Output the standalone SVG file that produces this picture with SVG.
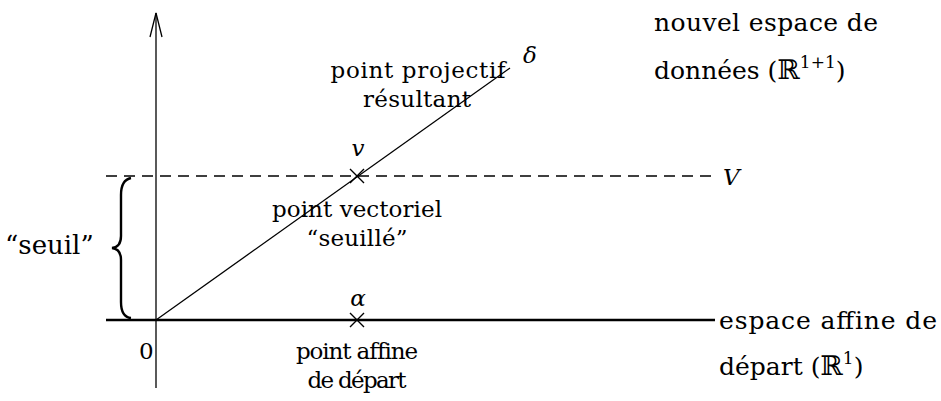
<svg xmlns="http://www.w3.org/2000/svg" width="941" height="401" viewBox="0 0 941 401">
<style>
text{font-family:"DejaVu Serif","Liberation Serif",serif;font-size:23px;fill:#000}
.m{font-style:italic}
.c{text-anchor:middle}
.b{font-size:25px}
.ln{stroke:#000;fill:none}
</style>
<rect width="941" height="401" fill="#fff"/>
<g id="connectors">
<line class="ln" x1="156" y1="388" x2="156" y2="13" stroke-width="1.3"/>
<path class="ln" d="M150,37 L156,13 L162,37" stroke-width="1.3"/>
<line class="ln" x1="106" y1="320" x2="715" y2="320" stroke-width="2.6"/>
<line class="ln" x1="106" y1="176" x2="713" y2="176" stroke-width="1.3" stroke-dasharray="11,7"/>
<line class="ln" x1="156" y1="320" x2="510" y2="68" stroke-width="1.3"/>
<path class="ln" d="M131,178 Q121,180 121,195 L121,236 Q121,247 112,248 Q121,249 121,260 L121,302 Q121,317 131,318" stroke-width="2.4"/>
</g>
<g id="cross-v"><path class="ln" d="M350,169 L364,183 M364,169 L350,183" stroke-width="1.4"/></g>
<g id="cross-alpha"><path class="ln" d="M350,313 L364,327 M364,313 L350,327" stroke-width="1.4"/></g>
<g id="labels">
<text class="b" x="654" y="31" textLength="224" lengthAdjust="spacing">nouvel espace de</text>
<text class="b" x="654" y="79">données (<tspan style="font-size:27px">ℝ</tspan><tspan dy="-11" style="font-size:17px">1+1</tspan><tspan dy="11">)</tspan></text>
<text class="c" x="418" y="78" textLength="175" lengthAdjust="spacing">point projectif</text>
<text class="c" x="417" y="107" textLength="108" lengthAdjust="spacing">résultant</text>
<text class="m" x="523" y="63">δ</text>
<text class="m c" x="358" y="156">v</text>
<text class="m" x="723" y="185">V</text>
<text class="c" x="357" y="217" textLength="170" lengthAdjust="spacing">point vectoriel</text>
<text class="c" x="357" y="246" textLength="101" lengthAdjust="spacing">“seuillé”</text>
<text x="5" y="254" style="font-size:26px">“seuil”</text>
<text class="m c" x="358" y="306">α</text>
<text x="139" y="359">0</text>
<text class="c" x="357" y="359" textLength="122" lengthAdjust="spacing">point affine</text>
<text class="c" x="357" y="388" textLength="99" lengthAdjust="spacing">de départ</text>
<text class="b" x="719" y="329" textLength="218" lengthAdjust="spacing">espace affine de</text>
<text class="b" x="719" y="375">départ (<tspan style="font-size:27px">ℝ</tspan><tspan dy="-11" style="font-size:17px">1</tspan><tspan dy="11">)</tspan></text>
</g>
</svg>
